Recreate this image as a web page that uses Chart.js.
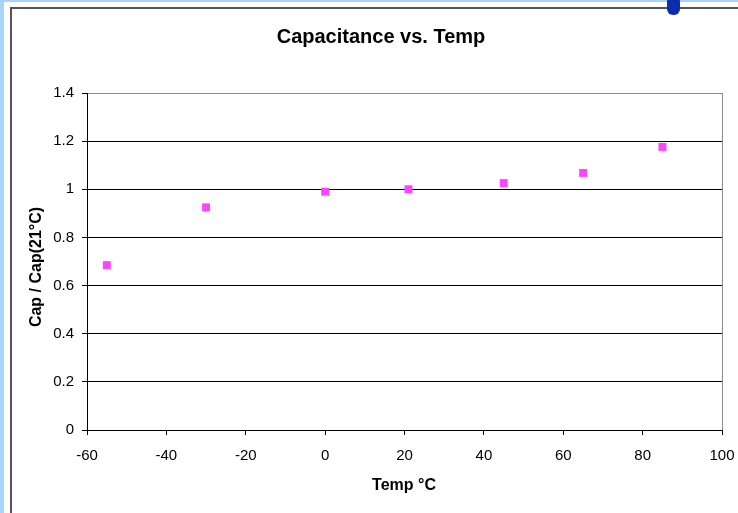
<!DOCTYPE html>
<html>
<head>
<meta charset="utf-8">
<script src="https://cdn.jsdelivr.net/npm/chart.js@4"></script>
<style>
  html, body { margin: 0; padding: 0; background: #fff; width: 738px; height: 513px; overflow: hidden; }
  #wrap { position: relative; width: 738px; height: 513px; }
  #c { position: absolute; left: 0; top: 0; }
  .strip-l { position: absolute; left: 0; top: 0; width: 4px; height: 513px; background: #a8d4fb; }
  .strip-t { position: absolute; left: 0; top: 0; width: 738px; height: 2px; background: #a8d4fb; }
  .frame { position: absolute; left: 10px; top: 7px; width: 740px; height: 520px; border-left: 2px solid #555; border-top: 2px solid #555; box-sizing: border-box; }
  .dot { position: absolute; left: 667px; top: -4px; width: 13px; height: 19px; background: #0a2db0; border-radius: 6px; }
</style>
</head>
<body>
<div id="wrap">
  <div class="strip-l"></div>
  <div class="strip-t"></div>
  <div class="frame"></div>
  <canvas id="c" width="738" height="513"></canvas>
  <div class="dot"></div>
</div>
<script>
const titleText = "Capacitance vs. Temp";
const xAxisTitle = "Temp °C";
const yAxisTitle = "Cap / Cap(21°C)";
const temps = [-55, -30, 0, 21, 45, 65, 85];
const capRatio = [0.685, 0.925, 0.99, 1.0, 1.026, 1.068, 1.176];
const xTicks = [-60, -40, -20, 0, 20, 40, 60, 80, 100];
const yTicks = [0, 0.2, 0.4, 0.6, 0.8, 1, 1.2, 1.4];

const FONT = "Arial, 'Liberation Sans', sans-serif";

const textPlugin = {
  id: 'texts',
  afterDraw(chart) {
    const ctx = chart.ctx;
    ctx.save();
    ctx.fillStyle = '#000';
    ctx.textAlign = 'center';
    ctx.textBaseline = 'middle';
    ctx.font = 'bold 20px ' + FONT;
    ctx.fillText(titleText, 381, 37);
    ctx.font = 'bold 16px ' + FONT;
    ctx.fillText(xAxisTitle, 404, 486);
    ctx.translate(37, 267);
    ctx.rotate(-Math.PI / 2);
    ctx.fillText(yAxisTitle, 0, 0);
    ctx.restore();
  }
};

function zeroPad(s) { s.paddingLeft = 0; s.paddingRight = 0; s.paddingTop = 0; s.paddingBottom = 0; }

new Chart(document.getElementById('c'), {
  type: 'scatter',
  data: {
    datasets: [{
      data: temps.map((t, i) => ({ x: t, y: capRatio[i] })),
      pointStyle: 'rect',
      pointRadius: 5.6,
      pointHoverRadius: 5.6,
      backgroundColor: '#ff44ff',
      borderColor: '#ff44ff',
      borderWidth: 0,
      showLine: false
    }]
  },
  options: {
    responsive: false,
    animation: false,
    events: [],
    layout: { padding: { left: 0, right: 16, top: 93, bottom: 0 } },
    plugins: { legend: { display: false }, tooltip: { enabled: false }, title: { display: false } },
    scales: {
      x: {
        type: 'linear',
        min: -60, max: 100,
        afterBuildTicks: s => { s.ticks = xTicks.map(v => ({ value: v })); },
        afterFit: s => { s.height = 83; zeroPad(s); },
        ticks: { color: '#000', font: { family: FONT, size: 15 }, padding: 12, maxRotation: 0, autoSkip: false },
        grid: {
          drawOnChartArea: true,
          color: c => (c.tick && c.tick.value === 100) ? '#8c8c8c' : 'rgba(0,0,0,0)',
          tickColor: '#000',
          tickLength: 5,
          lineWidth: 1
        },
        border: { display: true, color: '#000', width: 1 }
      },
      y: {
        type: 'linear',
        min: 0, max: 1.4,
        afterBuildTicks: s => { s.ticks = yTicks.map(v => ({ value: v })); },
        afterFit: s => { s.width = 87; zeroPad(s); },
        ticks: { color: '#000', font: { family: FONT, size: 15 }, padding: 8, callback: v => String(Math.round(v * 10) / 10) },
        grid: {
          color: c => (c.tick && Math.abs(c.tick.value - 1.4) < 1e-9) ? '#8c8c8c' : '#000',
          tickColor: '#000',
          tickLength: 5,
          lineWidth: 1
        },
        border: { display: true, color: '#000', width: 1 }
      }
    }
  },
  plugins: [textPlugin]
});
</script>
</body>
</html>
